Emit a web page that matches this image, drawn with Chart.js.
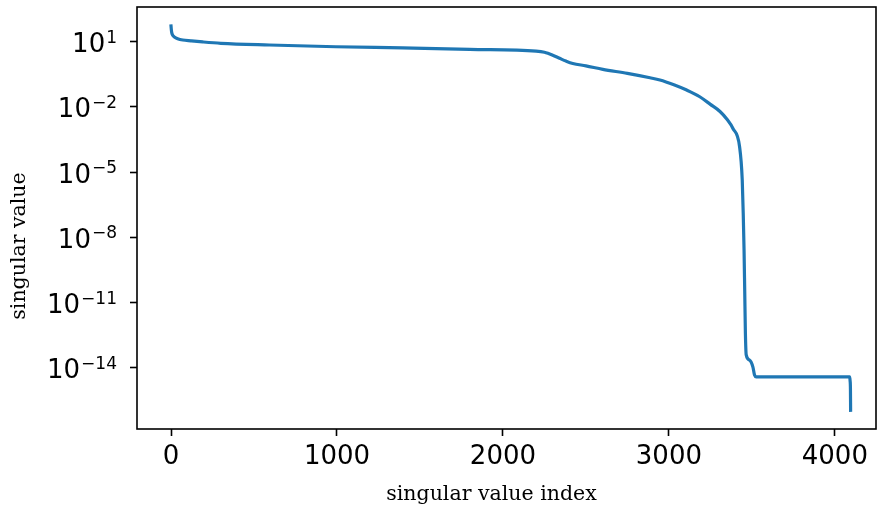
<!DOCTYPE html>
<html>
<head>
<meta charset="utf-8">
<script src="https://cdn.jsdelivr.net/npm/chart.js@4"></script>
<style>
html, body { margin: 0; padding: 0; background: #ffffff; }
#wrap { width: 877px; height: 506px; }
canvas { display: block; }
</style>
</head>
<body>
<div id="wrap"><canvas id="c" width="877" height="506"></canvas></div>
<script>
// ---- data ----
const indices = [0, 2, 5, 10, 20, 40, 71, 120, 191, 300, 592, 993, 1396, 1800, 2200, 2250, 2271, 2300, 2341, 2380, 2421, 2500, 2602, 2750, 2886, 2946, 3030, 3107, 3186, 3250, 3308, 3350, 3386, 3426, 3442, 3448, 3453, 3457, 3461, 3466, 3486, 3506, 3516, 3526, 4089, 4092, 4094, 4095];
const singularValues = [53.7, 35.5, 25.1, 20.0, 16.6, 13.8, 12.0, 11.0, 9.8, 8.5, 7.1, 5.9, 5.2, 4.5, 3.7, 3.3, 2.95, 2.4, 1.74, 1.29, 1.0, 0.78, 0.54, 0.35, 0.22, 0.174, 0.105, 0.060, 0.0295, 0.0132, 0.0062, 0.0027, 0.00102, 0.000148, 4.4e-6, 1.26e-7, 2.5e-9, 3.2e-11, 4.0e-13, 3.9e-14, 2.24e-14, 1.10e-14, 4.6e-15, 3.8e-15, 3.8e-15, 2.5e-15, 1.0e-15, 1.1e-16];
const xTickValues = [0, 1000, 2000, 3000, 4000];
const yTickExponents = [1, -2, -5, -8, -11, -14];
const xAxisLabel = 'singular value index';
const yAxisLabel = 'singular value';

// draws the frame, the 10^n y tick labels (at the y scale's own tick pixels) and axis titles
const framePlugin = {
  id: 'frameAndTitles',
  afterDraw(chart) {
    const ctx = chart.ctx;
    const a = chart.chartArea;
    const yScale = chart.scales.y;
    ctx.save();
    ctx.strokeStyle = '#000000';
    ctx.lineWidth = 1.6;
    ctx.strokeRect(a.left, a.top, a.right - a.left, a.bottom - a.top);
    ctx.fillStyle = '#000000';
    ctx.textBaseline = 'alphabetic';
    ctx.textAlign = 'left';
    const mainFont = '26px "DejaVu Sans"';
    const supFont = '17px "DejaVu Sans"';
    yScale.ticks.forEach(t => {
      const e = Math.round(Math.log10(t.value));
      const expText = (e < 0 ? '\u2212' : '') + String(Math.abs(e));
      const py = yScale.getPixelForValue(t.value);
      ctx.font = mainFont;
      const wMain = ctx.measureText('10').width;
      ctx.font = supFont;
      const wSup = ctx.measureText(expText).width;
      const xRight = a.left - 20;
      const x0 = xRight - wMain - wSup - 1;
      ctx.font = mainFont;
      ctx.fillText('10', x0, py + 10.5);
      ctx.font = supFont;
      ctx.fillText(expText, x0 + wMain + 1, py + 10.5 - 9.5);
    });
    ctx.font = '20.5px "DejaVu Serif"';
    ctx.textAlign = 'center';
    ctx.fillText(xAxisLabel, a.left + 354.5, a.bottom + 70.5);
    ctx.translate(24.5, a.top + 239);
    ctx.rotate(-Math.PI / 2);
    ctx.fillText(yAxisLabel, 0, 0);
    ctx.restore();
  }
};

const tickFont = { family: 'DejaVu Sans', size: 26 };

new Chart(document.getElementById('c'), {
  type: 'line',
  data: {
    datasets: [{
      data: indices.map((x, i) => ({ x: x, y: singularValues[i] })),
      borderColor: '#1f77b4',
      borderWidth: 3.2,
      borderCapStyle: 'square',
      borderJoinStyle: 'round',
      pointRadius: 0,
      fill: false,
      cubicInterpolationMode: 'monotone'
    }]
  },
  options: {
    responsive: false,
    animation: false,
    devicePixelRatio: 1,
    layout: { padding: { top: 7, right: 1, bottom: 0, left: 0 } },
    plugins: { legend: { display: false }, tooltip: { enabled: false } },
    scales: {
      x: {
        type: 'linear',
        min: -205,
        max: 4248,
        afterBuildTicks: s => { s.ticks = xTickValues.map(v => ({ value: v })); },
        afterFit: s => { s.height = 77; s.paddingLeft = 0; s.paddingRight = 0; },
        ticks: { font: tickFont, color: '#000000', padding: 6, maxRotation: 0, autoSkip: false,
                 callback: v => String(v) },
        grid: { drawOnChartArea: false, drawTicks: true, tickLength: 7, tickWidth: 1.6, tickColor: '#000000' },
        border: { display: false },
        title: { display: false }
      },
      y: {
        type: 'logarithmic',
        min: Math.pow(10, -16.82),
        max: Math.pow(10, 2.6),
        afterBuildTicks: s => { s.ticks = yTickExponents.map(e => ({ value: Math.pow(10, e) })); },
        afterFit: s => { s.width = 137; s.paddingTop = 0; s.paddingBottom = 0; },
        ticks: { display: false, autoSkip: false },
        grid: { drawOnChartArea: false, drawTicks: true, tickLength: 7, tickWidth: 1.6, tickColor: '#000000' },
        border: { display: false },
        title: { display: false }
      }
    }
  },
  plugins: [framePlugin]
});
</script>
</body>
</html>
